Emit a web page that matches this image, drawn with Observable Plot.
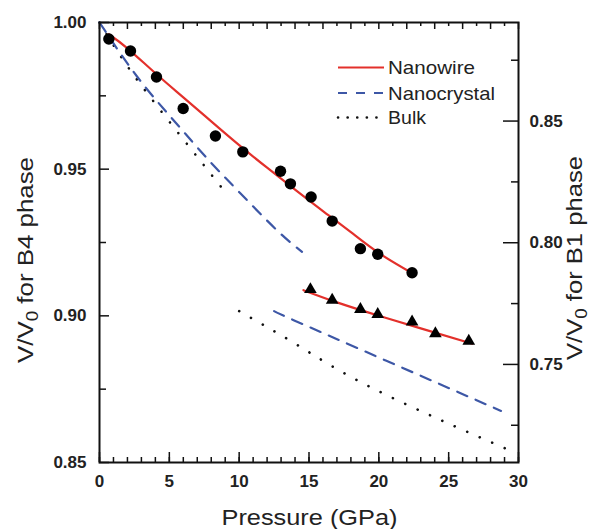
<!DOCTYPE html>
<html><head><meta charset="utf-8">
<script src="https://cdn.jsdelivr.net/npm/d3@7"></script>
<script src="https://cdn.jsdelivr.net/npm/@observablehq/plot@0.6"></script>
<style>
body{margin:0;background:#fff}
#chart svg{display:block}
</style></head><body><div id="chart"></div>
<script>
// Nanowire B4 data (left axis)
const nwP = [0.67, 2.22, 4.08, 5.99, 8.30, 10.26, 12.96, 13.67, 15.15, 16.66, 18.68, 19.92, 22.38];
const nwV = [0.9944, 0.9903, 0.9814, 0.9707, 0.9613, 0.9559, 0.9493, 0.9450, 0.9405, 0.9323, 0.9229, 0.9210, 0.9147];
// Nanowire B4 fit
const nwFitP = [0.67, 2, 4, 6, 8, 10, 12, 14, 16, 18, 20, 22.4];
const nwFitV = [0.9960, 0.9912, 0.9827, 0.9745, 0.9663, 0.9582, 0.9505, 0.9430, 0.9357, 0.9285, 0.9214, 0.9145];
// Nanowire B1 data (right axis)
const b1P = [15.10, 16.66, 18.68, 19.92, 22.38, 24.05, 26.44];
const b1V = [0.7808, 0.7764, 0.7726, 0.7706, 0.7675, 0.7627, 0.7596];
// Nanowire B1 fit (right axis)
const b1FitP = [14.6, 17, 20, 23, 26.7];
const b1FitV = [0.7805, 0.7755, 0.7700, 0.7648, 0.7585];
// Nanocrystal B4 (left) and B1 (right)
const ncP = [0, 2.7, 5.3, 7.7, 10.1, 12.7, 14.5];
const ncV = [1.0, 0.9815, 0.9667, 0.9537, 0.9417, 0.9292, 0.9218];
const nc1P = [12.5, 13.9, 20.7, 28.75];
const nc1V = [0.7719, 0.7682, 0.7511, 0.7309];
// Bulk B4 (left) and B1 (right)
const bkP = [0, 2.1, 5.1, 8.9];
const bkV = [1.0, 0.9844, 0.9656, 0.9428];
const bk1P = [10.0, 14.1, 19.6, 29.2];
const bk1V = [0.7719, 0.7582, 0.7401, 0.7151];

// axes
const xDomain = [0, 30];
const xTicks = [0, 5, 10, 15, 20, 25, 30];
const xMinor = d3.range(0, 31, 1);
const leftDomain = [0.85, 1.0];
const leftTicks = [0.85, 0.90, 0.95, 1.00];
const leftMinor = [0.875, 0.925, 0.975];
const rightDomain = [0.7097, 0.8905];
const rightTicks = [0.75, 0.80, 0.85];
const rightMinor = [0.725, 0.775, 0.825, 0.875];

const series = ["Nanowire", "Nanocrystal", "Bulk"];
const colors = {Nanowire: "#e3302b", Nanocrystal: "#3d57a6", Bulk: "#111111"};

const W = 593, H = 529, mL = 99, mR = 75, mT = 22, mB = 67;
const innerW = W - mL - mR, innerH = H - mT - mB;
const toLeft = d3.scaleLinear().domain(rightDomain).range(leftDomain);

const zip = (P, V, conv) => P.map((p, i) => ({p, v: conv ? toLeft(V[i]) : V[i]}));
const FONT = "Liberation Sans, Arial, sans-serif";
const labelStyle = {tickSize: 0, label: null, fontSize: 17, fontWeight: "bold", fill: "#222"};

const plot = Plot.plot({
  width: W, height: H,
  marginLeft: mL, marginRight: mR, marginTop: mT, marginBottom: mB,
  style: {fontFamily: FONT, background: "#fff"},
  x: {domain: xDomain},
  y: {domain: leftDomain},
  marks: [
    // series curves
    Plot.line(zip(bkP, bkV), {x: "p", y: "v", curve: "natural", stroke: colors.Bulk, strokeWidth: 2.6, strokeDasharray: "0.1,13.5", strokeLinecap: "round"}),
    Plot.line(zip(bk1P, bk1V, true), {x: "p", y: "v", curve: "natural", stroke: colors.Bulk, strokeWidth: 2.6, strokeDasharray: "0.1,13.5", strokeLinecap: "round"}),
    Plot.line(zip(ncP, ncV), {x: "p", y: "v", curve: "natural", stroke: colors.Nanocrystal, strokeWidth: 2.2, strokeDasharray: "11,9"}),
    Plot.line(zip(nc1P, nc1V, true), {x: "p", y: "v", curve: "natural", stroke: colors.Nanocrystal, strokeWidth: 2.2, strokeDasharray: "11,9"}),
    Plot.line(zip(nwFitP, nwFitV), {x: "p", y: "v", curve: "natural", stroke: colors.Nanowire, strokeWidth: 2.2}),
    Plot.line(zip(b1FitP, b1FitV, true), {x: "p", y: "v", curve: "natural", stroke: colors.Nanowire, strokeWidth: 2.2}),
    Plot.dot(zip(nwP, nwV), {x: "p", y: "v", r: 5.7, fill: "#000", stroke: "none"}),
    Plot.dot(zip(b1P, b1V, true), {x: "p", y: "v", r: 4.7, symbol: "triangle", fill: "#000", stroke: "none"}),
    // frame
    Plot.frame({stroke: "#111", strokeWidth: 2}),
    // bottom ticks (inward)
    Plot.ruleX(xMinor, {x: d => d, insetTop: innerH - 5, stroke: "#111", strokeWidth: 1.5}),
    Plot.ruleX(xTicks, {x: d => d, insetTop: innerH - 10, stroke: "#111", strokeWidth: 1.5}),
    // top ticks (inward)
    Plot.ruleX(xMinor.filter(d => d % 2 === 1), {x: d => d, insetBottom: innerH - 4, stroke: "#111", strokeWidth: 1.5}),
    Plot.ruleX(xMinor.filter(d => d % 2 === 0), {x: d => d, insetBottom: innerH - 7, stroke: "#111", strokeWidth: 1.5}),
    // left ticks
    Plot.ruleY(leftTicks, {y: d => d, insetRight: innerW - 10, stroke: "#111", strokeWidth: 1.5}),
    Plot.ruleY(leftMinor, {y: d => d, insetRight: innerW - 7, stroke: "#111", strokeWidth: 1.5}),
    // right ticks
    Plot.ruleY(rightTicks.map(toLeft), {y: d => d, insetLeft: innerW - 15, stroke: "#111", strokeWidth: 1.5}),
    Plot.ruleY(rightMinor.map(toLeft), {y: d => d, insetLeft: innerW - 7, stroke: "#111", strokeWidth: 1.5}),
    // tick labels
    Plot.axisX(xTicks, {anchor: "bottom", tickPadding: 12, ...labelStyle}),
    Plot.axisY(leftTicks, {anchor: "left", tickPadding: 13, tickFormat: ".2f", ...labelStyle}),
    Plot.axisY(rightTicks.map(toLeft), {anchor: "right", tickPadding: 11, tickFormat: d => d3.format(".2f")(toLeft.invert(d)), ...labelStyle})
  ]
});

const svg = d3.select(plot);
// axis titles
svg.append("text").attr("x", mL + innerW / 2 + 1).attr("y", 525).attr("text-anchor", "middle")
  .attr("font-family", FONT).attr("font-size", 22).attr("fill", "#222")
  .attr("textLength", 176).attr("lengthAdjust", "spacingAndGlyphs").text("Pressure (GPa)");

function yTitle(cx, cy, phase, len) {
  const t = svg.append("text").attr("transform", `translate(${cx},${cy}) rotate(-90)`)
    .attr("text-anchor", "middle").attr("font-family", FONT).attr("font-size", 22).attr("fill", "#222")
    .attr("textLength", len).attr("lengthAdjust", "spacingAndGlyphs");
  t.append("tspan").text("V/V");
  t.append("tspan").attr("font-size", 16).attr("dy", 5).text("0");
  t.append("tspan").attr("dy", -5).text(` for ${phase} phase`);
}
yTitle(33, 260, "B4", 206);
yTitle(582, 258, "B1", 204);

// legend
const legY = [67.5, 93, 117.5];
const legW = {Nanowire: 87, Nanocrystal: 107, Bulk: 38};
const legDash = {Nanowire: null, Nanocrystal: "9,9", Bulk: "0.1,9.5"};
series.forEach((s, i) => {
  const line = svg.append("line").attr("x1", 338).attr("x2", 384).attr("y1", legY[i]).attr("y2", legY[i])
    .attr("stroke", colors[s]).attr("stroke-width", s === "Bulk" ? 2.6 : 2.2);
  if (legDash[s]) line.attr("stroke-dasharray", legDash[s]);
  if (s === "Bulk") line.attr("stroke-linecap", "round");
  svg.append("text").attr("x", 388).attr("y", legY[i] + 6.5).attr("text-anchor", "start")
    .attr("font-family", FONT).attr("font-size", 19)
    .attr("fill", "#222").attr("textLength", legW[s]).attr("lengthAdjust", "spacingAndGlyphs").text(s);
});

document.getElementById("chart").appendChild(plot);
</script></body></html>
